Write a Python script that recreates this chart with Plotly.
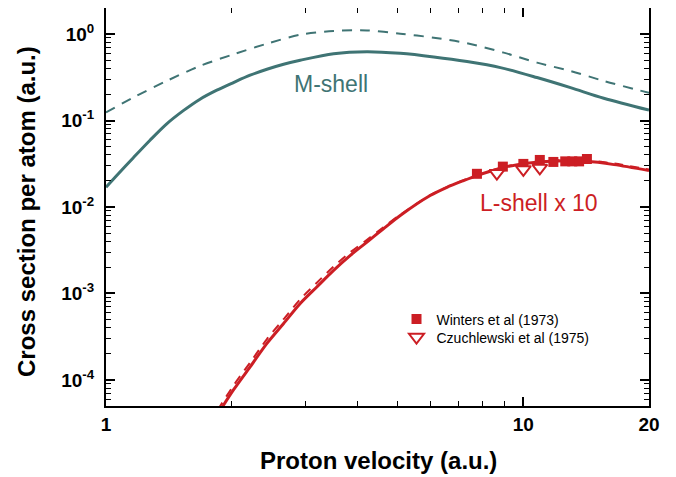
import plotly.graph_objects as go

# ---------------- data ----------------
m_solid_x = [1.0, 1.061, 1.163, 1.275, 1.398, 1.532, 1.68, 1.843, 2.02, 2.215, 2.43, 2.664, 2.92, 3.51, 4.22, 5.07, 6.10, 7.33, 8.81, 10.78, 12.97, 15.58, 20.0]
m_solid_y = [0.0169, 0.0231, 0.0372, 0.0592, 0.0915, 0.130, 0.1766, 0.2244, 0.275, 0.334, 0.392, 0.448, 0.498, 0.593, 0.625, 0.598, 0.543, 0.480, 0.409, 0.314, 0.240, 0.181, 0.132]

m_dash_x = [1.0, 1.163, 1.398, 1.68, 2.02, 2.43, 2.92, 3.51, 4.22, 5.07, 6.10, 7.33, 8.97, 10.78, 12.97, 15.58, 20.0]
m_dash_y = [0.124, 0.1845, 0.287, 0.428, 0.583, 0.774, 0.982, 1.084, 1.102, 1.009, 0.908, 0.785, 0.610, 0.467, 0.374, 0.287, 0.209]

l_solid_x = [1.85, 2.02, 2.215, 2.43, 2.664, 2.92, 3.20, 3.51, 3.85, 4.22, 4.62, 5.07, 5.98, 6.56, 7.19, 7.74, 8.33, 9.0, 10.2, 12.0, 14.2, 16.5, 20.0]
l_solid_y = [3.98e-5, 7.67e-5, 1.42e-4, 2.65e-4, 4.5e-4, 7.66e-4, 1.19e-3, 1.85e-3, 2.76e-3, 3.93e-3, 5.6e-3, 7.98e-3, 0.01358, 0.0169, 0.0202, 0.0231, 0.0259, 0.0288, 0.0320, 0.0340, 0.0337, 0.0309, 0.0264]

l_dash_x = [1.85, 2.02, 2.215, 2.43, 2.664, 2.92, 3.20, 3.51, 3.85, 4.22, 4.62, 5.07, 5.98, 6.56, 7.19, 7.74, 8.33, 9.0, 10.2, 12.0, 14.2, 16.5, 20.0]
l_dash_y = [4.46e-5, 8.6e-5, 1.59e-4, 2.97e-4, 5.04e-4, 8.58e-4, 1.33e-3, 2.05e-3, 3.0e-3, 4.17e-3, 5.82e-3, 8.13e-3, 0.0137, 0.0170, 0.0204, 0.0233, 0.0262, 0.0292, 0.0325, 0.0347, 0.0345, 0.0318, 0.0272]

winters_x = [7.74, 8.93, 10.0, 10.95, 11.8, 12.6, 13.1, 13.6, 14.2]
winters_y = [0.0242, 0.0293, 0.0315, 0.0350, 0.0332, 0.0337, 0.0337, 0.0337, 0.0359]

czuch_x = [8.64, 10.0, 10.95]
czuch_y = [0.0246, 0.0272, 0.0283]

x_tick_vals = [1, 10, 20]
x_tick_text = ["1", "10", "20"]
y_tick_vals = [1, 0.1, 0.01, 0.001, 0.0001]
y_tick_text = ["10<sup>0</sup>", "10<sup>-1</sup>", "10<sup>-2</sup>", "10<sup>-3</sup>", "10<sup>-4</sup>"]

TEAL = "#3f7474"
RED = "#cc1e24"
FONT = "Liberation Sans, Arial, Helvetica, sans-serif"

fig = go.Figure()
fig.add_trace(go.Scatter(x=m_dash_x, y=m_dash_y, mode="lines",
                         line=dict(color=TEAL, width=2, dash="10px,8px", shape="spline", smoothing=0.8), showlegend=False))
fig.add_trace(go.Scatter(x=m_solid_x, y=m_solid_y, mode="lines",
                         line=dict(color=TEAL, width=3, shape="spline", smoothing=0.9), showlegend=False))
fig.add_trace(go.Scatter(x=l_dash_x, y=l_dash_y, mode="lines",
                         line=dict(color=RED, width=2, dash="9px,7px", shape="spline", smoothing=0.8), showlegend=False))
fig.add_trace(go.Scatter(x=l_solid_x, y=l_solid_y, mode="lines",
                         line=dict(color=RED, width=3, shape="spline", smoothing=0.8), showlegend=False))
fig.add_trace(go.Scatter(x=winters_x, y=winters_y, mode="markers", name="Winters et al (1973)", legend="legend",
                         marker=dict(symbol="square", size=10, color=RED, line=dict(width=0))))
fig.add_trace(go.Scatter(x=czuch_x, y=czuch_y, mode="markers", name="Czuchlewski et al (1975)", legend="legend2",
                         marker=dict(symbol="triangle-down", size=13, color="white", line=dict(width=2, color=RED))))

minor_y = [k * 10.0 ** e for e in range(-5, 1) for k in range(2, 10)]
minor_y = [v for v in minor_y if 5e-5 <= v <= 2]

fig.update_xaxes(
    type="log", range=[0, 1.30103], automargin=False,
    tickvals=x_tick_vals, ticktext=x_tick_text,
    ticks="inside", ticklen=9, tickwidth=1.5, tickcolor="black",
    minor=dict(tickvals=[2, 3, 4, 5, 6, 7, 8, 9], ticks="inside", ticklen=5, tickwidth=1.2, tickcolor="black"),
    showline=True, linewidth=2, linecolor="black", mirror="allticks",
    showgrid=False, zeroline=False,
    tickfont=dict(family=FONT, size=19, color="black", weight="bold"),
    ticklabelstandoff=0,
)
fig.update_yaxes(
    type="log", range=[-4.30103, 0.30103], automargin=False,
    tickvals=y_tick_vals, ticktext=y_tick_text,
    ticks="inside", ticklen=9, tickwidth=1.5, tickcolor="black",
    minor=dict(tickvals=minor_y, ticks="inside", ticklen=5, tickwidth=1.2, tickcolor="black"),
    showline=True, linewidth=2, linecolor="black", mirror="allticks",
    showgrid=False, zeroline=False,
    tickfont=dict(family=FONT, size=19, color="black", weight="bold"),
    ticklabelstandoff=6,
)

fig.add_annotation(x=0.501, y=-0.138, xref="paper", yref="paper", text="<b>Proton velocity (a.u.)</b>",
                   showarrow=False, xanchor="center", yanchor="middle",
                   font=dict(family=FONT, size=24, color="black"))
fig.add_annotation(x=-0.1455, y=0.49, xref="paper", yref="paper", text="<b>Cross section per atom (a.u.)</b>",
                   showarrow=False, xanchor="center", yanchor="middle", textangle=-90,
                   font=dict(family=FONT, size=24, color="black"))

fig.add_annotation(x=0.540, y=-0.583, xref="x", yref="y", text="M-shell", showarrow=False,
                   font=dict(family=FONT, size=23, color=TEAL))
fig.add_annotation(x=1.037, y=-1.95, xref="x", yref="y", text="L-shell x 10", showarrow=False,
                   font=dict(family=FONT, size=23, color=RED))

legend_common = dict(x=0.535, xanchor="left", yanchor="top", bgcolor="rgba(0,0,0,0)",
                     font=dict(family=FONT, size=14, color="black"), itemsizing="trace")

# the page body adds an 8px margin, so the figure is made 8px smaller
fig.update_layout(
    width=668, height=469,
    margin=dict(l=98, r=27, t=0, b=71),
    paper_bgcolor="white", plot_bgcolor="white",
    legend=dict(y=0.2575, **legend_common),
    legend2=dict(y=0.2123, **legend_common),
)

fig.write_html("out.html")
